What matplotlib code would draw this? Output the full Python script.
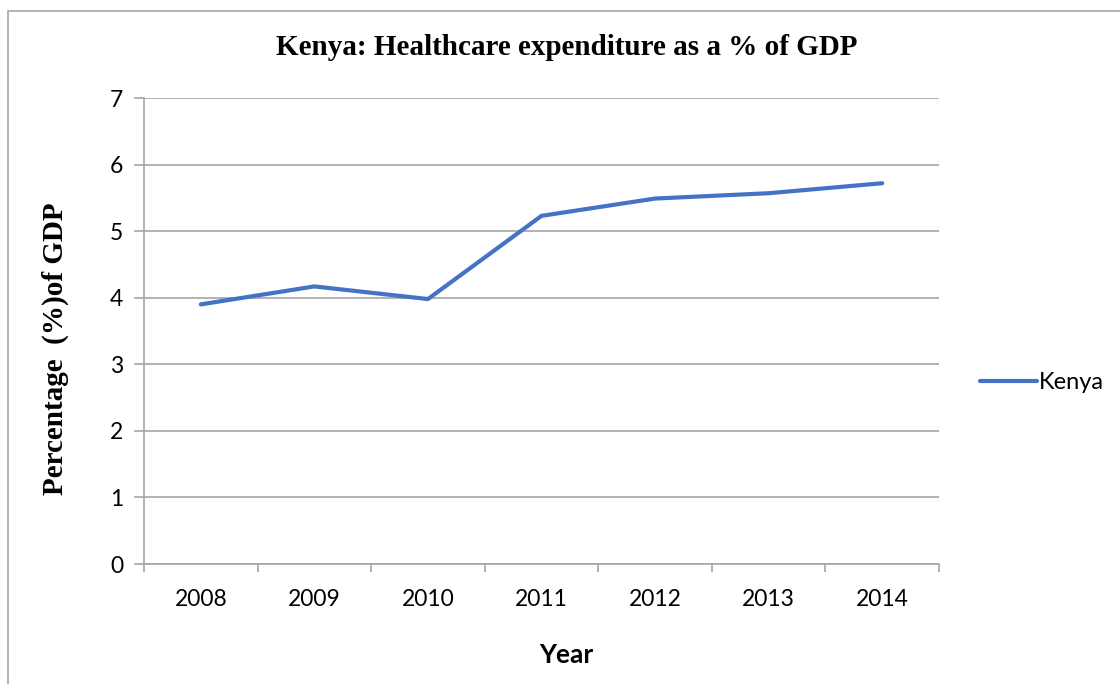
import numpy as np
import matplotlib.pyplot as plt
from matplotlib.patches import Rectangle

years = ['2008', '2009', '2010', '2011', '2012', '2013', '2014']
kenya = [3.90, 4.17, 3.98, 5.23, 5.49, 5.57, 5.72]
yticks = [0, 1, 2, 3, 4, 5, 6, 7]

serif = 'Liberation Serif'
sans = 'Lato'
grey = '#a6a6a6'

fig = plt.figure(figsize=(11.2, 6.84), dpi=100)
ax = fig.add_axes([0.1286, 0.1754, 0.7098, 0.6813])

# outer chart frame (runs off the right and bottom edges)
fig.patches.append(Rectangle((8 / 1120, -0.1), 1.2, 0.1 + (684 - 11) / 684,
                             transform=fig.transFigure, fill=False,
                             edgecolor=grey, linewidth=1.2))

x = np.arange(len(years))
line, = ax.plot(x, kenya, color='#4472c4', linewidth=3, solid_capstyle='round',
                label='Kenya', zorder=3)

ax.set_xlim(-0.5, len(years) - 0.5)
ax.set_ylim(0, 7)
ax.set_yticks(yticks)
ax.set_yticklabels([str(v) for v in yticks], fontname=sans, fontsize=16.5)
ax.set_xticks(x)
ax.set_xticklabels(years, fontname=sans, fontsize=16.5)
ax.set_xticks(np.arange(len(years) + 1) - 0.5, minor=True)
ax.tick_params(axis='x', which='major', length=0, pad=18)
ax.tick_params(axis='x', which='minor', length=6, color=grey, width=1.2, direction='out')
ax.tick_params(axis='y', length=7, color=grey, width=1.2, pad=8)

ax.grid(axis='y', color=grey, linewidth=1.2)
ax.set_axisbelow(True)
for s in ['top', 'right']:
    ax.spines[s].set_visible(False)
for s in ['left', 'bottom']:
    ax.spines[s].set_color(grey)
    ax.spines[s].set_linewidth(1.2)

fig.text(0.506, 0.931, 'Kenya: Healthcare expenditure as a % of GDP',
         ha='center', va='center', fontname=serif, fontweight='bold', fontsize=21)
fig.text(0.049, 0.490, 'Percentage  (%)of GDP', rotation=90, ha='center', va='center',
         fontname=serif, fontweight='bold', fontsize=21)
fig.text(0.506, 0.042, 'Year', ha='center', va='center',
         fontname=sans, fontweight='bold', fontsize=19)

ax.legend(handles=[line], loc='center left', bbox_to_anchor=(1.025, 0.39),
          frameon=False, handlelength=2.4, handletextpad=0.1,
          prop={'family': sans, 'size': 17})

fig.savefig('out.png', dpi=100)
